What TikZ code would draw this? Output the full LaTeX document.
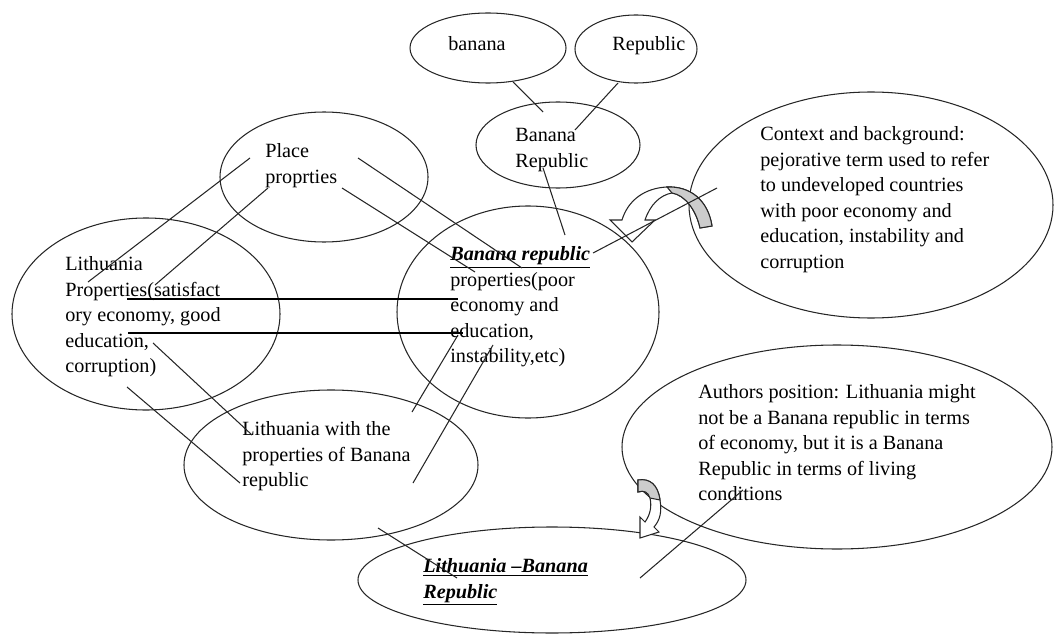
\documentclass[tikz,border=0pt]{standalone}
\usepackage{fontspec}
\setmainfont{Liberation Serif}
\usetikzlibrary{shapes.geometric}

\begin{document}
\begin{tikzpicture}[x=0.02cm,y=-0.02cm,
  oval/.style 2 args={draw=black!85, line width=.6pt, ellipse, inner sep=0pt,
    minimum width=#1*0.02cm, minimum height=#2*0.02cm},
  txt/.style={anchor=north west, inner sep=0pt, align=left,
    font=\fontsize{11.5}{14.6}\selectfont},
  ln/.style={line width=.6pt, draw=black!85}]

\useasboundingbox (0,0) rectangle (1055,635);

% the ellipses
\node[oval={156}{70}]  (banana)   at (488,48)  {};
\node[oval={122}{68}]  (republic) at (636,49)  {};
\node[oval={164}{86}]  (br)       at (558,145) {};
\node[oval={208}{130}] (place)    at (324,177) {};
\node[oval={268}{192}] (lith)     at (146,314) {};
\node[oval={262}{212}] (brprop)   at (528,312) {};
\node[oval={364}{226}] (context)  at (871,205) {};
\node[oval={430}{204}] (authors)  at (837,447) {};
\node[oval={294}{150}] (lithwith) at (331,465) {};
\node[oval={388}{106}] (lithbr)   at (552,580) {};

% texts
\node[txt] (banana-t)   at (448,36)  {banana};
\node[txt] (republic-t) at (612,36)  {Republic};
\node[txt] (br-t)       at (515,128) {Banana\\Republic};
\node[txt] (place-t)    at (265,143) {Place\\proprties};
\node[txt] (lith-t)     at (65,256)  {Lithuania\\Properties(satisfact\\ory economy, good\\education,\\corruption)};
\node[txt] (brprop-t)   at (450,246) {\underline{\textbf{\textit{Banana republic}}}\\properties(poor\\economy and\\education,\\instability,etc)};
\node[txt] (context-t)  at (760,126) {Context and background:\\pejorative term used to refer\\to undeveloped countries\\with poor economy and\\education, instability and\\corruption};
\node[txt] (authors-t)  at (698,384) {Authors position: Lithuania might\\not be a Banana republic in terms\\of economy, but it is a Banana\\Republic in terms of living\\conditions};
\node[txt] (lithwith-t) at (242,421) {Lithuania with the\\properties of Banana\\republic};
\node[txt] (lithbr-t)   at (423,558) {\underline{\textbf{\textit{Lithuania --Banana}}}\\\underline{\textbf{\textit{Republic}}}};

% curved arrows
\draw[ln, fill=white] (712,226) .. controls (708,200) and (690,186) .. (667,187)
  .. controls (645,188) and (628,200) .. (622,220) -- (610,220) -- (632,242) -- (655,220) -- (645,220)
  .. controls (650,205) and (660,195) .. (672,193) .. controls (685,195) and (696,210) .. (700,228) -- cycle;
\draw[ln, fill=gray!40] (712,226) .. controls (708,200) and (690,186) .. (667,187) -- (672,193)
  .. controls (685,195) and (696,210) .. (700,228) -- cycle;

\draw[ln, fill=white] (638,480) .. controls (650,478) and (658,485) .. (660,500)
  .. controls (662,512) and (660,520) .. (654,527) -- (659,532) -- (640,538) -- (640,517) -- (645,522)
  .. controls (650,515) and (652,507) .. (650,498) .. controls (648,492) and (644,490) .. (638,492) -- cycle;
\draw[ln, fill=gray!40] (638,480) .. controls (650,478) and (658,485) .. (660,500) -- (650,498)
  .. controls (648,492) and (644,490) .. (638,492) -- cycle;

% line ends
\coordinate (b1) at (513,82);  \coordinate (b2) at (543,112);
\coordinate (r1) at (618,83);  \coordinate (r2) at (575,130);
\coordinate (c1) at (543,168); \coordinate (c2) at (565,235);
\coordinate (k1) at (593,253); \coordinate (k2) at (717,188);
\coordinate (p1) at (250,158); \coordinate (p2) at (88,282);
\coordinate (p3) at (268,188); \coordinate (p4) at (155,285);
\coordinate (p5) at (358,158); \coordinate (p6) at (522,268);
\coordinate (p7) at (342,188); \coordinate (p8) at (475,272);
\coordinate (l1) at (153,343); \coordinate (l2) at (252,435);
\coordinate (l3) at (127,387); \coordinate (l4) at (240,483);
\coordinate (w1) at (412,412); \coordinate (w2) at (458,335);
\coordinate (w3) at (413,483); \coordinate (w4) at (493,345);
\coordinate (w5) at (378,528); \coordinate (w6) at (457,578);
\coordinate (a1) at (640,578); \coordinate (a2) at (743,490);

\foreach \a/\b in {b1/b2,r1/r2,c1/c2,k1/k2,p1/p2,p3/p4,p5/p6,p7/p8,l1/l2,l3/l4,w1/w2,w3/w4,w5/w6,a1/a2}{
    \draw[ln] (\a) -- (\b);
}

% the two long lines
\coordinate (h1) at (127,299); \coordinate (h2) at (458,299);
\coordinate (h3) at (128,333); \coordinate (h4) at (463,333);
\draw[line width=1pt] (h1) -- (h2);
\draw[line width=1pt] (h3) -- (h4);

\end{tikzpicture}
\end{document}
